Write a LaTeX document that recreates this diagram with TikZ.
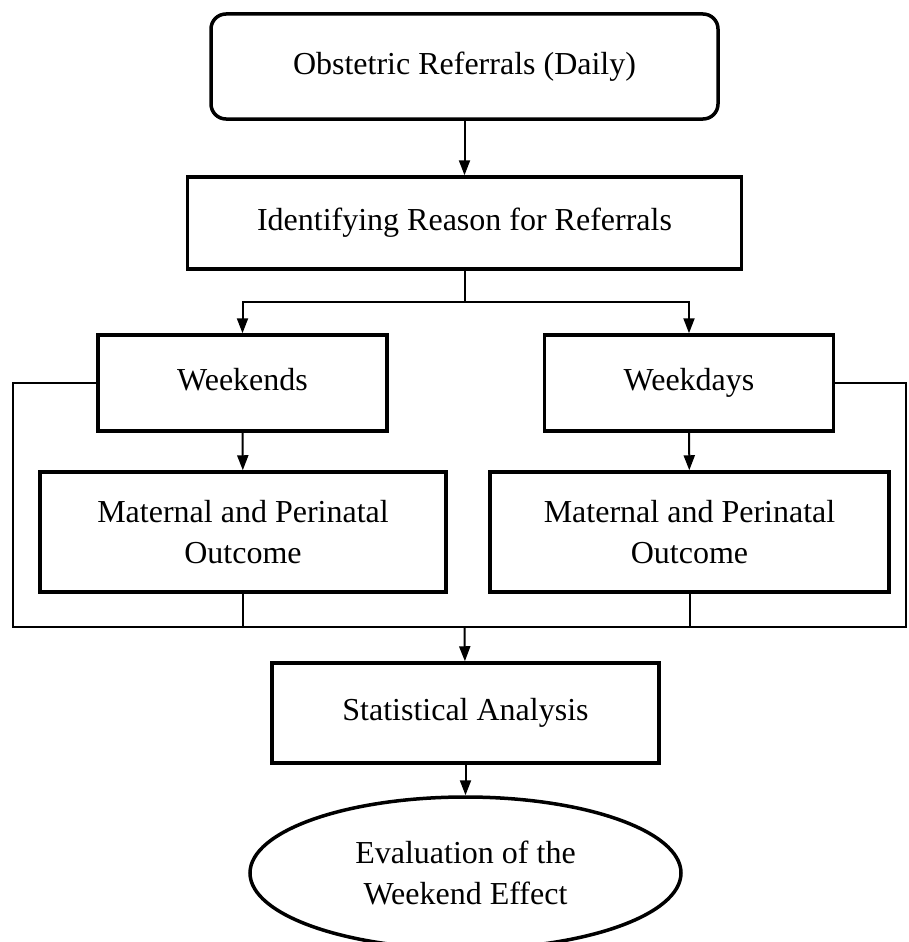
\documentclass[tikz,border=0pt]{standalone}
\usepackage{fontspec}
\setmainfont{Liberation Serif}
\usetikzlibrary{arrows.meta,calc,positioning,shapes.geometric}
\tikzset{
  box/.style={
    draw=black,
    line width=3.5pt,
    align=center,
    inner sep=4pt,
    font=\fontsize{32}{41}\selectfont
  },
  roundbox/.style={
    box,
    rounded corners=15pt
  },
  oval/.style={
    box,
    ellipse,
    inner sep=0pt
  },
  link/.style={
    line width=2pt,
    black
  },
  arrow/.style={
    link,
    -{Triangle[length=15pt,width=11pt]}
  }
}
\begin{document}
\begin{tikzpicture}[x=1pt,y=-1pt]
\useasboundingbox (0,0) rectangle (908,942);
\node[roundbox, minimum width=507pt, minimum height=105pt] (daily) at (464.5,66.5) {Obstetric Referrals (Daily)};
\node[box, minimum width=554pt, minimum height=92pt] (reason) at (464.5,223) {Identifying Reason for Referrals};
\node[box, minimum width=289pt, minimum height=96pt, text height=22pt, text depth=7pt] (wkend) at (242.5,383) {Weekends};
\node[box, minimum width=289pt, minimum height=96pt, text height=22pt, text depth=7pt] (wkday) at (689,383) {Weekdays};
\node[box, minimum width=406pt, minimum height=120pt] (out1) at (243,532) {Maternal and Perinatal\\Outcome};
\node[box, minimum width=399pt, minimum height=120pt] (out2) at (689.5,532) {Maternal and Perinatal\\Outcome};
\node[box, minimum width=387pt, minimum height=100pt] (stats) at (465.5,713) {Statistical Analysis};
\node[oval, minimum width=431pt, minimum height=152pt] (eval) at (465.5,873) {Evaluation of the\\Weekend Effect};
% branch and merge points
\coordinate (split) at (464.5,302);
\coordinate (join) at (464.5,627);
\coordinate (lcorner) at (13,627);
\coordinate (rcorner) at (906,627);
\draw[arrow] (daily) -- (reason);
\draw[link] (reason) -- (split);
\draw[arrow] (split) -| (wkend);
\draw[arrow] (split) -| (wkday);
\draw[arrow] (wkend) -- (out1);
\draw[arrow] (wkday) -- (out2);
\draw[link] (wkend) -| (lcorner) -- (rcorner) |- (wkday);
\draw[link] (out1) -- (out1.south |- join);
\draw[link] (out2) -- (out2.south |- join);
\draw[arrow] (join) -- (stats);
\draw[arrow] (stats) -- (eval);
\end{tikzpicture}
\end{document}
